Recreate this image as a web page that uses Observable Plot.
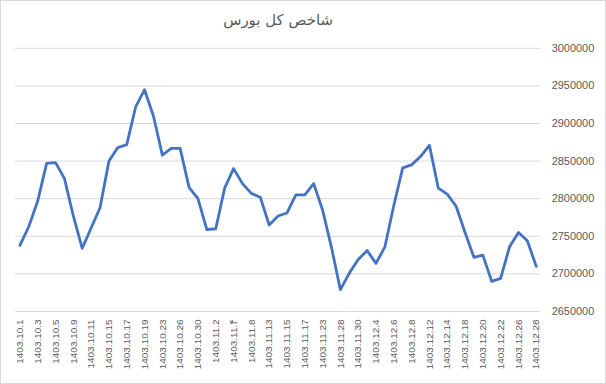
<!DOCTYPE html>
<html>
<head>
<meta charset="utf-8">
<script src="https://cdn.jsdelivr.net/npm/d3@7"></script>
<script src="https://cdn.jsdelivr.net/npm/@observablehq/plot@0.6"></script>
<style>
  html, body { margin: 0; padding: 0; background: #fff; }
  #chart { position: relative; width: 604px; height: 382px; border: 1px solid #d9d9d9; overflow: hidden; }
  #chart svg { position: absolute; left: -1px; top: -1px; }
</style>
</head>
<body>
<div id="chart"></div>
<script>
const title = "شاخص کل بورس";

const dates = [
  "1403.10.1","1403.10.2","1403.10.3","1403.10.4","1403.10.5","1403.10.8","1403.10.9","1403.10.10",
  "1403.10.11","1403.10.12","1403.10.15","1403.10.16","1403.10.17","1403.10.18","1403.10.19","1403.10.22",
  "1403.10.23","1403.10.24","1403.10.26","1403.10.29","1403.10.30","1403.11.1","1403.11.2","1403.11.3",
  "1403.11.۴","1403.11.7","1403.11.8","1403.11.10","1403.11.13","1403.11.14","1403.11.15","1403.11.16",
  "1403.11.17","1403.11.20","1403.11.23","1403.11.27","1403.11.28","1403.11.29","1403.11.30","1403.12.1",
  "1403.12.4","1403.12.5","1403.12.6","1403.12.7","1403.12.8","1403.12.11","1403.12.12","1403.12.13",
  "1403.12.14","1403.12.15","1403.12.18","1403.12.19","1403.12.20","1403.12.21","1403.12.22","1403.12.25",
  "1403.12.26","1403.12.27","1403.12.28"
];

const values = [
  2738000, 2763000, 2797000, 2847000, 2848000, 2827000, 2777000, 2734000,
  2761000, 2788000, 2850000, 2868000, 2872000, 2922000, 2945000, 2910000,
  2858000, 2867000, 2867000, 2815000, 2800000, 2759000, 2760000, 2814000,
  2840000, 2820000, 2807000, 2802000, 2765000, 2777000, 2781000, 2805000,
  2805000, 2820000, 2785000, 2735000, 2679000, 2701000, 2719000, 2731000,
  2714000, 2736000, 2791000, 2841000, 2845000, 2856000, 2871000, 2814000,
  2806000, 2790000, 2755000, 2722000, 2725000, 2690000, 2694000, 2736000,
  2755000, 2744000, 2710000
];

const yTicks = [2650000, 2700000, 2750000, 2800000, 2850000, 2900000, 2950000, 3000000];
const xTickLabels = dates.filter((d, i) => i % 2 === 0);

const data = dates.map((d, i) => ({date: d, value: values[i]}));

const chart = Plot.plot({
  width: 606,
  height: 384,
  marginTop: 48,
  marginBottom: 72,
  marginLeft: 15,
  marginRight: 64,
  style: {fontFamily: "'Liberation Sans', Arial, 'DejaVu Sans', sans-serif", color: "#595959", background: "transparent"},
  x: {type: "point", domain: dates, padding: 0.5},
  y: {domain: [2650000, 3000000]},
  marks: [
    Plot.ruleY(yTicks, {stroke: "#d9d9d9", strokeWidth: 1}),
    Plot.axisY(yTicks, {anchor: "right", tickSize: 0, tickPadding: 11, tickFormat: d3.format("d"), fontSize: 11, fill: "#595959", label: null}),
    Plot.axisX(xTickLabels, {anchor: "bottom", tickSize: 0, tickPadding: 8, tickRotate: -90, fontSize: 10, fill: "#595959", label: null}),
    Plot.line(data, {x: "date", y: "value", stroke: "#4472C4", strokeWidth: 2.8, strokeLinejoin: "round", strokeLinecap: "round"}),
    Plot.text([title], {frameAnchor: "top", lineAnchor: "middle", dy: -28, fontSize: 15, fill: "#595959", fontFamily: "'DejaVu Sans', sans-serif"})
  ]
});

document.getElementById("chart").appendChild(chart);
</script>
</body>
</html>
